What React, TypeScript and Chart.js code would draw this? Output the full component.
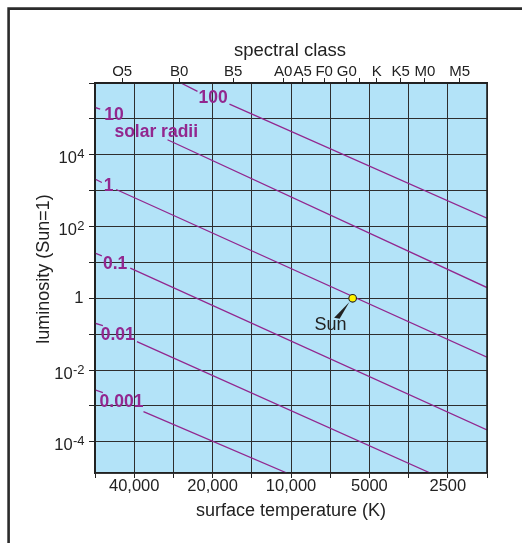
import React, { useEffect, useRef } from 'react';
import { Chart, registerables } from 'chart.js';

Chart.register(...registerables);

// ---------- data ----------
const T_LEFT = 56569; // hottest edge
const T_RIGHT = 1768; // coolest edge
const L_BOTTOM = 1.35e-5;
const L_TOP = 1e6;

const tempGrid = [56569, 40000, 28284, 20000, 14142, 10000, 7071, 5000, 3536, 2500, 1768];
const tempLabels = ['', '40,000', '', '20,000', '', '10,000', '', '5000', '', '2500', ''];

const spectralTemps = [44500, 26900, 16670, 10720, 9030, 7460, 6110, 5470, 4690, 3790, 3060, 2250];
const spectralLabels = ['O5', 'B0', 'B5', 'A0', 'A5', 'F0', 'G0', '', 'K', 'K5', 'M0', 'M5'];

const lumGrid = [1e-4, 1e-3, 1e-2, 1e-1, 1, 10, 100, 1e3, 1e4, 1e5, 1e6];
const lumLabelValues = [1e4, 1e2, 1, 1e-2, 1e-4];
const lumLabelBase = ['10', '10', '1', '10', '10'];
const lumLabelExp = ['4', '2', '', '-2', '-4'];

// constant-radius lines: [stub start, stub end, main start, main end]
const line100T = [26470, 22860, 17230, 1768];
const line100L = [1.0e6, 5.83e5, 2.59e5, 171];
const line10T = [56569, 54030, 29800, 1768];
const line10L = [2.08e5, 1.88e5, 2.62e4, 1.99];
const line1T = [56569, 53230, 46900, 1768];
const line1L = [2100, 1690, 1077, 0.0228];
const line01T = [56569, 53230, 41420, 1768];
const line01L = [18.1, 15.2, 6.91, 2.13e-4];
const line001T = [56569, 52760, 39050, 2920];
const line001L = [0.2018, 0.173, 0.0619, 1.35e-5];
const line0001T = [56569, 52760, 36850, 10370];
const line0001L = [2.79e-3, 2.34e-3, 6.92e-4, 1.35e-5];

const radiusLabels = ['100', '10', 'solar radii', '1', '0.1', '0.01', '0.001'];
const radiusLabelT = [19900, 47870, 32920, 50110, 47330, 46280, 44760];
const radiusLabelL = [3.89e5, 1.28e5, 4.38e4, 1365, 8.71, 0.0923, 1.29e-3];

const sunT = 5800;
const sunL = 1;
const sunLabel = 'Sun';
const sunLabelT = 7053;
const sunLabelL = 0.178;

// ---------- styles ----------
const FONT = '"Liberation Sans", Arial, Helvetica, sans-serif';
const PURPLE = '#92278F';
const BG = '#B3E3F8';
const INK = '#222222';
const GRID = '#2e2e2e';

function makeLine(T: number[], L: number[]) {
  return [
    { x: T[0], y: L[0] },
    { x: T[1], y: L[1] },
    { x: (T[1] + T[2]) / 2, y: null },
    { x: T[2], y: L[2] },
    { x: T[3], y: L[3] },
  ];
}

const decor = {
  id: 'decor',
  beforeDraw(chart: any) {
    const { ctx, chartArea: a } = chart;
    ctx.save();
    ctx.fillStyle = '#ffffff';
    ctx.fillRect(0, 0, chart.width, chart.height);
    ctx.fillStyle = BG;
    ctx.fillRect(a.left, a.top, a.right - a.left, a.bottom - a.top);
    ctx.strokeStyle = '#2b2b2b';
    ctx.lineWidth = 2.6;
    ctx.beginPath();
    ctx.moveTo(8.6, chart.height + 2);
    ctx.lineTo(8.6, 8.6);
    ctx.lineTo(chart.width + 2, 8.6);
    ctx.stroke();
    ctx.restore();
  },
  afterDraw(chart: any) {
    const { ctx, chartArea: a } = chart;
    const xs = chart.scales.x;
    const ys = chart.scales.y;
    ctx.save();
    // plot frame
    ctx.strokeStyle = INK;
    ctx.lineWidth = 1.6;
    ctx.strokeRect(a.left, a.top, a.right - a.left, a.bottom - a.top);

    // radius labels
    ctx.fillStyle = PURPLE;
    ctx.font = `bold 17.5px ${FONT}`;
    ctx.textAlign = 'center';
    ctx.textBaseline = 'middle';
    radiusLabels.forEach((t, i) => {
      ctx.fillText(t, xs.getPixelForValue(radiusLabelT[i]), ys.getPixelForValue(radiusLabelL[i]));
    });

    // Sun pointer + label
    const sx = xs.getPixelForValue(sunT);
    const sy = ys.getPixelForValue(sunL);
    ctx.fillStyle = INK;
    ctx.beginPath();
    ctx.moveTo(sx - 3.2, sy + 3.6);
    ctx.lineTo(sx - 18.5, sy + 19.5);
    ctx.lineTo(sx - 13.0, sy + 20.5);
    ctx.closePath();
    ctx.fill();
    ctx.font = `18px ${FONT}`;
    ctx.fillText(sunLabel, xs.getPixelForValue(sunLabelT), ys.getPixelForValue(sunLabelL));

    // y tick labels with superscripts
    const right = ys.right - 10.5;
    lumLabelValues.forEach((v, i) => {
      const py = ys.getPixelForValue(v);
      const exp = lumLabelExp[i];
      const base = lumLabelBase[i];
      ctx.textAlign = 'right';
      if (!exp) {
        ctx.font = `16.5px ${FONT}`;
        ctx.textBaseline = 'middle';
        ctx.fillText(base, right - 1, py + 0.5);
      } else {
        ctx.font = `13px ${FONT}`;
        ctx.textBaseline = 'alphabetic';
        const w = ctx.measureText(exp).width;
        ctx.fillText(exp, right, py + 3.5);
        ctx.font = `16.5px ${FONT}`;
        ctx.fillText(base, right - w - 0.3, py + 8.5);
      }
    });

    // axis titles
    ctx.fillStyle = INK;
    ctx.textAlign = 'center';
    ctx.textBaseline = 'alphabetic';
    ctx.font = `18.5px ${FONT}`;
    ctx.fillText('spectral class', (a.left + a.right) / 2 - 1, 55.5);
    ctx.font = `18px ${FONT}`;
    ctx.fillText('surface temperature (K)', (a.left + a.right) / 2, 516);
    ctx.save();
    ctx.translate(49, (a.top + a.bottom) / 2 - 9);
    ctx.rotate(-Math.PI / 2);
    ctx.fillText('luminosity (Sun=1)', 0, 0);
    ctx.restore();
    ctx.restore();
  },
};

export default function App() {
  const ref = useRef<HTMLCanvasElement | null>(null);

  useEffect(() => {
    if (!ref.current) return;
    const lineStyle = {
      borderColor: PURPLE,
      borderWidth: 1.3,
      pointRadius: 0,
      fill: false,
      tension: 0,
      spanGaps: false,
    };
    const chart = new Chart(ref.current, {
      type: 'line',
      data: {
        datasets: [
          {
            label: 'Sun',
            data: [{ x: sunT, y: sunL }],
            showLine: false,
            pointRadius: 3.8,
            pointBackgroundColor: '#FFF200',
            pointBorderColor: INK,
            pointBorderWidth: 1.1,
            borderColor: INK,
          },
          { label: '100', data: makeLine(line100T, line100L), ...lineStyle },
          { label: '10', data: makeLine(line10T, line10L), ...lineStyle },
          { label: '1', data: makeLine(line1T, line1L), ...lineStyle },
          { label: '0.1', data: makeLine(line01T, line01L), ...lineStyle },
          { label: '0.01', data: makeLine(line001T, line001L), ...lineStyle },
          { label: '0.001', data: makeLine(line0001T, line0001L), ...lineStyle },
        ] as any,
      },
      options: {
        animation: false,
        responsive: false,
        events: [],
        layout: { padding: { left: 0, right: 35, top: 0, bottom: 0 } },
        plugins: { legend: { display: false }, tooltip: { enabled: false } },
        scales: {
          x: {
            type: 'logarithmic',
            position: 'bottom',
            reverse: true,
            min: T_RIGHT,
            max: T_LEFT,
            bounds: 'data',
            afterBuildTicks: (s: any) => {
              s.ticks = tempGrid.map((v) => ({ value: v }));
            },
            afterFit: (s: any) => {
              s.height = 70;
            },
            grid: { color: GRID, lineWidth: 1, drawTicks: true, tickLength: 5, tickColor: INK },
            border: { display: true, color: INK, width: 1.5 },
            ticks: {
              autoSkip: false,
              maxRotation: 0,
              color: INK,
              padding: 0,
              font: { family: FONT, size: 16.5, lineHeight: 1 },
              callback: (_v: any, i: number) => tempLabels[i],
            },
          },
          x2: {
            type: 'logarithmic',
            position: 'top',
            reverse: true,
            min: T_RIGHT,
            max: T_LEFT,
            bounds: 'data',
            afterBuildTicks: (s: any) => {
              s.ticks = spectralTemps.map((v) => ({ value: v }));
            },
            afterFit: (s: any) => {
              s.height = 83;
            },
            grid: { drawOnChartArea: false, drawTicks: true, tickLength: 5, tickColor: INK, color: INK },
            border: { display: true, color: INK, width: 1.5 },
            ticks: {
              autoSkip: false,
              maxRotation: 0,
              color: INK,
              padding: -1.5,
              font: { family: FONT, size: 15, lineHeight: 1 },
              callback: (_v: any, i: number) => spectralLabels[i],
            },
          },
          y: {
            type: 'logarithmic',
            position: 'left',
            min: L_BOTTOM,
            max: L_TOP,
            bounds: 'data',
            afterBuildTicks: (s: any) => {
              s.ticks = lumGrid.map((v) => ({ value: v }));
            },
            afterFit: (s: any) => {
              s.width = 95;
            },
            grid: { color: GRID, lineWidth: 1, drawTicks: true, tickLength: 6, tickColor: INK },
            border: { display: true, color: INK, width: 1.5 },
            ticks: {
              autoSkip: false,
              color: INK,
              font: { family: FONT, size: 16 },
              callback: () => '',
            },
          },
        },
      } as any,
      plugins: [decor],
    });
    return () => chart.destroy();
  }, []);

  return (
    <div style={{ position: 'fixed', left: 0, top: 0, width: 522, height: 543, background: '#fff' }}>
      <canvas ref={ref} width={522} height={543} style={{ display: 'block' }} />
    </div>
  );
}
